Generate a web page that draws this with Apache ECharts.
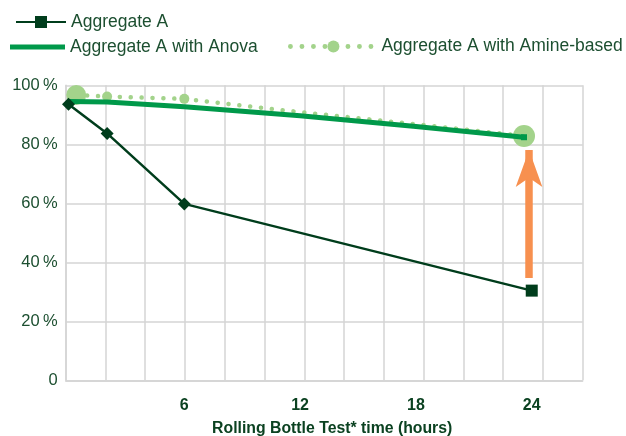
<!DOCTYPE html>
<html>
<head>
<meta charset="utf-8">
<script src="https://cdn.jsdelivr.net/npm/echarts@6/dist/echarts.min.js"></script>
<style>
html,body{margin:0;padding:0;background:#fff;}
#c{width:626px;height:436px;}
</style>
</head>
<body>
<div id="c"></div>
<script>
// ---- data ----
const hoursAggregateA = [0, 2, 6, 24];
const aggregateA = [93.6, 83.7, 59.8, 30.4];
const hoursAnova = [0, 2, 6, 12, 18, 23.6];
const anova = [94.5, 94.3, 92.7, 89.7, 86.0, 82.4];
const hoursAmine = [0.4, 2, 6, 12, 18, 23.6];
const amine = [96.7, 96.2, 95.4, 90.9, 86.8, 82.8];
const xTickLabels = [6, 12, 18, 24];
const yTickValues = [0, 20, 40, 60, 80, 100];
const arrowFrom = [23.86, 34.7];
const arrowTo = [23.86, 78.1];
const seriesNames = ['Aggregate A', 'Aggregate A with Anova', 'Aggregate A with Amine-based'];

// ---- styles ----
const aggSymbols = ['diamond', 'diamond', 'diamond', 'rect'];
const aggSizes = [13, 13, 13, 12];
const anovaSymbols = ['none', 'none', 'none', 'none', 'none', 'rect'];
const amineSizes = [20, 10, 10, 0, 0, 22];
const amineSymbols = ['circle', 'circle', 'circle', 'none', 'none', 'circle'];

const DARK = '#003d1c';
const GREEN = '#00994a';
const LIGHT = '#a3d38b';
const ORANGE = '#f7904f';
const GRID = '#d4d4d4';
const TEXT = '#1c4f30';
const FONT = "'Liberation Sans', Arial, sans-serif";

const chart = echarts.init(document.getElementById('c'), null, {renderer: 'canvas'});

const legendText = {color: TEXT, fontSize: 17.5, fontFamily: FONT};

const option = {
  animation: false,
  grid: {left: 65.7, right: 43.3, top: 85.3, bottom: 55.7, containLabel: false, outerBoundsMode: 'none'},
  legend: [
    {
      data: [seriesNames[0]], left: 15, top: 13, padding: 0, itemWidth: 50, itemHeight: 15,
      textStyle: legendText
    },
    {
      data: [{name: seriesNames[1], icon: 'rect'}], left: 10, top: 38, padding: 0, itemWidth: 55, itemHeight: 5,
      textStyle: legendText
    },
    {
      data: [seriesNames[2]], left: 288, top: 37.5, padding: 0, itemWidth: 86, itemHeight: 15,
      lineStyle: {color: LIGHT, width: 4.8, type: [0.1, 11.4], cap: 'round'},
      textStyle: legendText
    }
  ],
  xAxis: [
    {
      type: 'value', min: 0, max: 13, interval: 1, position: 'bottom',
      axisLine: {show: true, onZero: false, lineStyle: {color: GRID, width: 1.5}},
      axisTick: {show: false}, axisLabel: {show: false},
      splitLine: {show: true, lineStyle: {color: GRID, width: 1.5}}
    },
    {
      type: 'value', min: -0.145, max: 26.64, position: 'bottom',
      axisLine: {show: false, onZero: false}, axisTick: {show: false}, splitLine: {show: false},
      axisLabel: {
        customValues: xTickLabels, color: '#0b4221', fontSize: 16, fontWeight: 'bold',
        fontFamily: FONT, margin: 17
      },
      name: 'Rolling Bottle Test* time (hours)', nameLocation: 'middle', nameGap: 40,
      nameTextStyle: {
        color: '#0b4221', fontSize: 15.8, fontWeight: 'bold', fontFamily: FONT,
        padding: [0, 0, 0, 16]
      }
    }
  ],
  yAxis: {
    type: 'value', min: 0, max: 100, interval: 20,
    axisLine: {show: true, lineStyle: {color: GRID, width: 1.5}},
    axisTick: {show: false},
    splitLine: {show: true, lineStyle: {color: GRID, width: 1.5}},
    axisLabel: {
      color: TEXT, fontSize: 16.5, fontFamily: FONT, margin: 8,
      formatter: v => (yTickValues.indexOf(v) >= 0 ? (v === 0 ? '0' : v + '\u2009%') : '')
    }
  },
  series: [
    {
      name: seriesNames[2], type: 'line', xAxisIndex: 1, z: 2,
      symbol: 'circle', showSymbol: true,
      data: hoursAmine.map((h, i) => ({value: [h, amine[i]], symbol: amineSymbols[i], symbolSize: amineSizes[i]})),
      lineStyle: {color: LIGHT, width: 4.5, type: [0.1, 10.8], cap: 'round'},
      itemStyle: {color: LIGHT}
    },
    {
      name: seriesNames[1], type: 'line', xAxisIndex: 1, z: 3,
      symbol: 'rect', symbolSize: 6, showSymbol: true,
      data: hoursAnova.map((h, i) => ({value: [h, anova[i]], symbol: anovaSymbols[i]})),
      lineStyle: {color: GREEN, width: 5},
      itemStyle: {color: GREEN}
    },
    {
      name: seriesNames[0], type: 'line', xAxisIndex: 1, z: 4,
      symbol: 'rect', symbolSize: 12, showSymbol: true,
      data: hoursAggregateA.map((h, i) => ({value: [h, aggregateA[i]], symbol: aggSymbols[i], symbolSize: aggSizes[i]})),
      lineStyle: {color: DARK, width: 2.5},
      itemStyle: {color: DARK},
      markLine: {
        silent: true, symbol: ['none', 'arrow'], symbolSize: [20, 37],
        label: {show: false},
        lineStyle: {color: ORANGE, width: 7.5, type: 'solid', opacity: 1},
        data: [[{coord: arrowFrom}, {coord: arrowTo}]]
      }
    }
  ]
};
chart.setOption(option);
</script>
</body>
</html>
